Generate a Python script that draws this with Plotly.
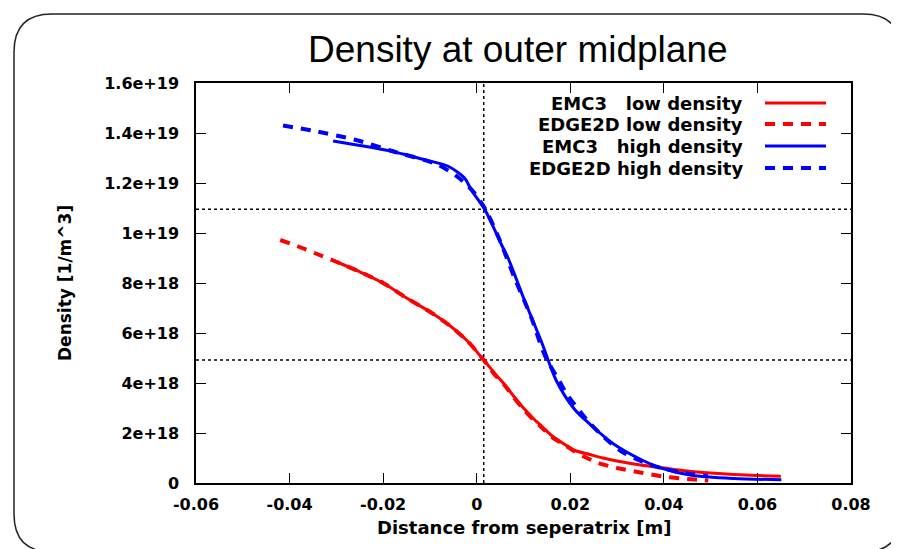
import plotly.graph_objects as go

# ---------------- data ----------------
emc3_low_x = [-0.030, -0.025, -0.020, -0.015, -0.010, -0.006, -0.002, 0.0015, 0.004, 0.006, 0.008,
              0.010, 0.012, 0.014, 0.016, 0.019, 0.021, 0.024, 0.027, 0.030, 0.035, 0.040,
              0.045, 0.050, 0.055, 0.060, 0.065]
emc3_low_y = [8.85e18, 8.45e18, 8.0e18, 7.4e18, 6.85e18, 6.33e18, 5.68e18, 4.92e18, 4.35e18, 3.93e18, 3.45e18,
              3.0e18, 2.6e18, 2.25e18, 1.9e18, 1.52e18, 1.3e18, 1.15e18, 1.0e18, 0.88e18, 0.72e18, 0.6e18,
              0.48e18, 0.4e18, 0.34e18, 0.3e18, 0.27e18]

edge_low_x = [-0.042, -0.038, -0.034, -0.030, -0.025, -0.020, -0.015, -0.010, -0.006, -0.002, 0.0015,
              0.004, 0.006, 0.008, 0.010, 0.012, 0.014, 0.016, 0.019, 0.021, 0.023, 0.026, 0.030,
              0.035, 0.0395, 0.045, 0.0495]
edge_low_y = [9.72e18, 9.45e18, 9.15e18, 8.85e18, 8.45e18, 8.0e18, 7.4e18, 6.85e18, 6.33e18, 5.68e18, 4.92e18,
              4.3e18, 3.9e18, 3.4e18, 2.95e18, 2.55e18, 2.2e18, 1.85e18, 1.5e18, 1.25e18, 1.05e18, 0.8e18, 0.6e18,
              0.42e18, 0.27e18, 0.16e18, 0.1e18]

emc3_high_x = [-0.0307, -0.025, -0.0183, -0.0111, -0.0061, -0.0026, -0.0012, 0.0017, 0.0053, 0.0067,
               0.0103, 0.0138, 0.017, 0.0209, 0.0245, 0.0295, 0.0352, 0.0394, 0.0459, 0.055, 0.0651]
emc3_high_y = [13.68e18, 13.5e18, 13.27e18, 12.93e18, 12.67e18, 12.2e18, 11.73e18, 10.95e18, 9.53e18, 9.0e18,
               7.27e18, 5.67e18, 4.1e18, 2.95e18, 2.3e18, 1.53e18, 0.93e18, 0.6e18, 0.31e18, 0.18e18, 0.13e18]

edge_high_x = [-0.0414, -0.0353, -0.026, -0.0179, -0.0083, -0.004, -0.0008, 0.0017, 0.0045, 0.0081,
               0.0117, 0.0145, 0.0181, 0.0191, 0.0238, 0.0274, 0.0309, 0.0352, 0.0394, 0.0444, 0.0494]
edge_high_y = [14.3e18, 14.1e18, 13.73e18, 13.27e18, 12.73e18, 12.23e18, 11.67e18, 11.0e18, 9.9e18, 8.2e18,
               6.6e18, 5.13e18, 3.93e18, 3.6e18, 2.47e18, 1.8e18, 1.27e18, 0.87e18, 0.6e18, 0.4e18, 0.27e18]

series_names = ["EMC3   low density", "EDGE2D low density", "EMC3   high density", "EDGE2D high density"]

separatrix_x = 0.0015
ref_levels = [1.095e19, 4.92e18]

x_tickvals = [-0.06, -0.04, -0.02, 0, 0.02, 0.04, 0.06, 0.08]
x_ticktext = ["-0.06", "-0.04", "-0.02", "0", "0.02", "0.04", "0.06", "0.08"]
y_tickvals = [0, 2e18, 4e18, 6e18, 8e18, 1e19, 1.2e19, 1.4e19, 1.6e19]
y_ticktext = ["0", "2e+18", "4e+18", "6e+18", "8e+18", "1e+19", "1.2e+19", "1.4e+19", "1.6e+19"]

title_text = "Density at outer midplane"
x_title = "Distance from seperatrix [m]"
y_title = "Density [1/m^3]"

# ---------------- layout geometry ----------------
W, H = 899, 549
L, R, T, B = 188, 843, 75, 475


def px(p):
    return (p - L) / (R - L)


def py(p):
    return (B - p) / (B - T)


RED = "#ff0000"
BLUE = "#0000ff"
BOLD = "DejaVu Sans"

series = [
    (emc3_low_x, emc3_low_y, RED, "solid", 3),
    (edge_low_x, edge_low_y, RED, "10px,8px", 4),
    (emc3_high_x, emc3_high_y, BLUE, "solid", 3),
    (edge_high_x, edge_high_y, BLUE, "10px,8px", 4),
]

fig = go.Figure()
for (xs, ys, col, dash, w), name in zip(series, series_names):
    fig.add_trace(go.Scatter(x=xs, y=ys, mode="lines", name=name,
                             line=dict(color=col, width=w, dash=dash, shape="spline", smoothing=0.8),
                             showlegend=False))

shapes = []
# dotted reference lines
shapes.append(dict(type="line", xref="x", yref="paper", x0=separatrix_x, x1=separatrix_x, y0=0, y1=1,
                   line=dict(color="black", width=1.5, dash="dot"), layer="below"))
for lv in ref_levels:
    shapes.append(dict(type="line", xref="paper", yref="y", x0=0, x1=1, y0=lv, y1=lv,
                       line=dict(color="black", width=1.5, dash="dot"), layer="below"))

# rounded outer border
x0b, y0b, x1b, y1b, rr = 6, 6, 893, 544, 38
path = (f"M {px(x0b + rr)},{py(y0b)} L {px(x1b - rr)},{py(y0b)} "
        f"Q {px(x1b)},{py(y0b)} {px(x1b)},{py(y0b + rr)} "
        f"L {px(x1b)},{py(y1b - rr)} Q {px(x1b)},{py(y1b)} {px(x1b - rr)},{py(y1b)} "
        f"L {px(x0b + rr)},{py(y1b)} Q {px(x0b)},{py(y1b)} {px(x0b)},{py(y1b - rr)} "
        f"L {px(x0b)},{py(y0b + rr)} Q {px(x0b)},{py(y0b)} {px(x0b + rr)},{py(y0b)} Z")
shapes.append(dict(type="path", xref="paper", yref="paper", path=path,
                   line=dict(color="#222222", width=1.5)))

annotations = []
# custom legend (text right, sample line on the right)
legend_rows = [95, 116, 138, 160]
for (xs, ys, col, dash, w), name, row in zip(series, series_names, legend_rows):
    annotations.append(dict(xref="paper", yref="paper", x=px(737), y=py(row), xanchor="right",
                            yanchor="middle", text="<b>" + name.replace(" ", "&nbsp;") + "</b>",
                            showarrow=False, font=dict(family=BOLD, size=18, color="black")))
    shapes.append(dict(type="line", xref="paper", yref="paper", x0=px(757), x1=px(818),
                       y0=py(row), y1=py(row), line=dict(color=col, width=w, dash=dash)))

annotations.append(dict(xref="paper", yref="paper", x=px(510), y=py(42), xanchor="center", yanchor="middle",
                        text=title_text, showarrow=False,
                        font=dict(family="Liberation Sans", size=37, color="black")))
annotations.append(dict(xref="paper", yref="paper", x=0.5, y=py(519), xanchor="center", yanchor="middle",
                        text="<b>" + x_title + "</b>", showarrow=False,
                        font=dict(family=BOLD, size=18, color="black")))
annotations.append(dict(xref="paper", yref="paper", x=px(57), y=py(275), xanchor="center", yanchor="middle",
                        text="<b>" + y_title + "</b>", showarrow=False, textangle=-90,
                        font=dict(family=BOLD, size=17, color="black")))

axis_common = dict(showline=True, linecolor="black", linewidth=1.5, mirror="ticks", ticks="inside",
                   ticklen=10, tickwidth=1, tickcolor="black", showgrid=False, zeroline=False,
                   tickfont=dict(family=BOLD, size=16, color="black"))

fig.update_layout(
    width=W, height=H,
    margin=dict(l=L, r=W - R, t=T, b=H - B),
    paper_bgcolor="white", plot_bgcolor="white",
    xaxis=dict(range=[-0.06, 0.08], tickvals=x_tickvals,
               ticktext=["<b>" + t + "</b>" for t in x_ticktext], ticklabelstandoff=6, **axis_common),
    yaxis=dict(range=[0, 1.6e19], tickvals=y_tickvals,
               ticktext=["<b>" + t + "</b>" for t in y_ticktext], ticklabelstandoff=12, **axis_common),
    shapes=shapes,
    annotations=annotations,
    showlegend=False,
)

fig.write_html("out.html")
